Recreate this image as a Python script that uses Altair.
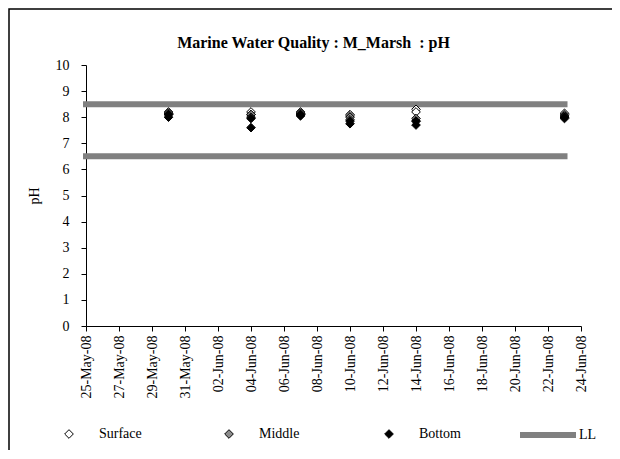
import altair as alt
import pandas as pd

# ---- data ----
dates = ["2008-05-30", "2008-06-04", "2008-06-07", "2008-06-10", "2008-06-14", "2008-06-23"]
surface_1 = [8.20, 8.20, 8.20, 8.10, 8.30, 8.15]
surface_2 = [8.15, 8.10, 8.15, 8.05, 8.20, 8.10]
middle_1 = [8.15, 8.10, 8.15, 8.00, 7.95, 8.05]
middle_2 = [8.10, 8.00, 8.10, 7.90, 7.85, 8.00]
bottom_1 = [8.10, 7.95, 8.10, 7.85, 7.85, 8.00]
bottom_2 = [8.00, 7.60, 8.05, 7.75, 7.70, 7.95]
series_names = ["Surface", "Middle", "Bottom"]
series_fill = ["#ffffff", "#8c8c8c", "#000000"]

limit_names = ["LL", "LL"]
limit_values = [8.5, 6.5]
limit_start = ["2008-05-25", "2008-05-25"]
limit_end = ["2008-06-23", "2008-06-23"]

tick_dates = ["2008-05-25", "2008-05-27", "2008-05-29", "2008-05-31", "2008-06-02",
              "2008-06-04", "2008-06-06", "2008-06-08", "2008-06-10", "2008-06-12",
              "2008-06-14", "2008-06-16", "2008-06-18", "2008-06-20", "2008-06-22",
              "2008-06-24"]
y_ticks = [0, 1, 2, 3, 4, 5, 6, 7, 8, 9, 10]
title_text = "Marine Water Quality : M_Marsh \u00a0: pH"

rows = []
for name, vals_list in [("Surface", [surface_1, surface_2]),
                        ("Middle", [middle_1, middle_2]),
                        ("Bottom", [bottom_1, bottom_2])]:
    for vals in vals_list:
        for d, v in zip(dates, vals):
            rows.append({"date": d, "pH": v, "Series": name,
                         "order": series_names.index(name)})
points = pd.DataFrame(rows)

limits = pd.DataFrame({"start": limit_start, "end": limit_end,
                       "value": limit_values, "Limit": limit_names})

FONT = "Liberation Serif"
W, H = 495, 261


def dt(s):
    y, m, d = s.split("-")
    return alt.DateTime(year=int(y), month=int(m), date=int(d), utc=True)


x_scale = alt.Scale(type="utc", domain=[dt("2008-05-25"), dt("2008-06-24")], nice=False)
y_scale = alt.Scale(domain=[0, 10], nice=False)

x_axis = alt.Axis(values=[dt(s) for s in tick_dates], format="%d-%b-%y",
                  labelAngle=270, labelFont=FONT, labelFontSize=14, labelColor="black",
                  tickColor="black", domainColor="black", tickSize=5, labelPadding=4,
                  grid=False, title=None, labelOverlap=False, labelBound=False,
                  labelFlush=False)
y_axis = alt.Axis(values=y_ticks, labelFont=FONT, labelFontSize=14, labelColor="black",
                  tickColor="black", domainColor="black", tickSize=5, labelPadding=12,
                  grid=False, title="pH", titleFont=FONT, titleFontSize=14,
                  titleFontWeight="normal", titleColor="black", titlePadding=14,
                  labelFlush=False)

frame = alt.Chart(pd.DataFrame({"a": [0]})).mark_rect(
    fill=None, stroke="black", strokeWidth=1.5, clip=False
).encode(
    x=alt.value(-77), x2=alt.value(W + 120),
    y=alt.value(-56), y2=alt.value(H + 300)
)

ll = alt.Chart(limits).mark_rule(strokeWidth=6, strokeCap="square").encode(
    x=alt.X("start:T", scale=x_scale, axis=x_axis),
    x2="end:T",
    y=alt.Y("value:Q", scale=y_scale, axis=y_axis),
    stroke=alt.Stroke("Limit:N", scale=alt.Scale(domain=["LL"], range=["#808080"]),
                      legend=alt.Legend(orient="none", legendX=431, legendY=339,
                                        title=None, symbolType="stroke",
                                        symbolSize=3136, symbolStrokeWidth=6,
                                        labelOffset=0, labelFont=FONT, labelFontSize=14,
                                        labelColor="black", padding=0))
)

pts = alt.Chart(points).mark_point(shape="diamond", filled=True, size=75,
                                   stroke="black", strokeWidth=1, opacity=1).encode(
    x=alt.X("date:T", scale=x_scale, axis=x_axis),
    y=alt.Y("pH:Q", scale=y_scale, axis=y_axis),
    fill=alt.Fill("Series:N", scale=alt.Scale(domain=series_names, range=series_fill),
                  legend=alt.Legend(orient="none", legendX=-24, legendY=362,
                                    direction="horizontal", title=None,
                                    symbolType="diamond", symbolSize=75,
                                    symbolStrokeColor="black", symbolStrokeWidth=1,
                                    symbolOpacity=1,
                                    labelOffset=23, columnPadding=80, gridAlign="all",
                                    labelFont=FONT, labelFontSize=14, labelColor="black",
                                    padding=0)),
    order=alt.Order("order:Q")
)

chart = alt.layer(frame, ll, pts).resolve_legend(fill="independent", stroke="independent").properties(
    width=W, height=H,
    padding={"left": 78, "top": 57, "right": 31, "bottom": 124},
    autosize=alt.AutoSizeParams(type="none"),
    title=alt.TitleParams(title_text, font=FONT, fontSize=16, fontWeight="bold",
                          color="black", anchor="middle", frame="group", dx=-20,
                          offset=-43),
    background="white"
).configure_view(stroke=None)

chart.save("out.html", embed_options={"renderer": "svg", "actions": False})
